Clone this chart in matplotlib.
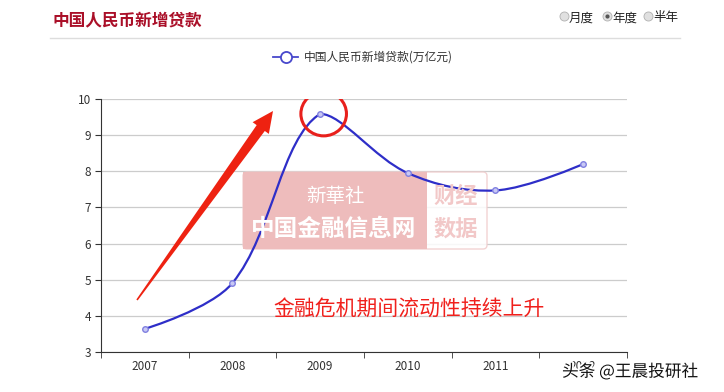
import numpy as np
import matplotlib
matplotlib.use("Agg")
import matplotlib.pyplot as plt
from matplotlib.path import Path
from matplotlib.patches import PathPatch, Ellipse, FancyBboxPatch, Rectangle, Polygon
from matplotlib.lines import Line2D
import matplotlib.patheffects as pe

plt.rcParams["font.family"] = ["Noto Sans CJK SC", "DejaVu Sans"]

# data
years = ["2007", "2008", "2009", "2010", "2011", "2012"]
loans = [3.64, 4.91, 9.59, 7.95, 7.47, 8.20]
y_ticks = [3, 4, 5, 6, 7, 8, 9, 10]

title = "中国人民币新增贷款"
series_name = "中国人民币新增贷款(万亿元)"
note = "金融危机期间流动性持续上升"

W, H = 724, 392
fig = plt.figure(figsize=(W / 100, H / 100), dpi=100)
ax = fig.add_axes([101 / W, 1 - 352 / H, 526 / W, 253 / H])

x = np.arange(len(years))
ax.set_xlim(-0.5, len(years) - 0.5)
ax.set_ylim(3, 10)


def smooth_path(ax, xs, ys, smooth=0.35):
    # bezier smoothing like echarts (pixel space, clamped to the points' box)
    pts = ax.transData.transform(np.column_stack([xs, ys]))
    lo, hi = pts.min(axis=0), pts.max(axis=0)
    n = len(pts)
    verts = [pts[0]]
    codes = [Path.MOVETO]
    cp0 = pts[0].copy()
    for i in range(1, n):
        p = pts[i]
        prv = pts[i - 1]
        if i < n - 1:
            nxt = pts[i + 1]
            v = nxt - prv
            d_prev = np.hypot(*(p - prv))
            d_next = np.hypot(*(p - nxt))
            ratio = d_next / (d_next + d_prev)
            cp1 = p - v * smooth * (1 - ratio)
        else:
            v = np.zeros(2)
            ratio = 0.5
            cp1 = p.copy()
        cp0 = np.clip(cp0, lo, hi)
        cp1 = np.clip(cp1, lo, hi)
        verts += [cp0, cp1, p]
        codes += [Path.CURVE4] * 3
        cp0 = p + v * smooth * ratio
    verts = ax.transData.inverted().transform(np.array(verts))
    return Path(verts, codes)


def px(xp, yp):
    # reference pixel (top-left origin) -> display coords
    return np.array([xp, H - yp], dtype=float)


# grid + axes styling
ax.set_yticks(y_ticks)
ax.yaxis.grid(True, color="#cccccc", linewidth=0.9)
ax.set_axisbelow(True)
for s in ["top", "right"]:
    ax.spines[s].set_visible(False)
ax.spines["left"].set_color("#333333")
ax.spines["bottom"].set_color("#333333")
ax.tick_params(axis="y", length=4, color="#333333", labelsize=8.5,
               labelcolor="#333333", pad=3)
ax.set_xticks(x)
ax.set_xticklabels(years)
ax.set_xticks(np.arange(len(years) + 1) - 0.5, minor=True)
ax.tick_params(axis="x", which="major", length=0, labelsize=8.5,
               labelcolor="#333333", pad=6)
ax.tick_params(axis="x", which="minor", length=4, color="#333333")

# watermark box
ax.add_patch(FancyBboxPatch(px(243, 249), 244, 77,
                            boxstyle="round,pad=0,rounding_size=4",
                            transform=None, facecolor="white", edgecolor="#f0cccc",
                            linewidth=1, alpha=0.85, zorder=1.5))
ax.add_patch(Rectangle(px(243, 249), 184, 77, transform=None,
                       facecolor="#eebcbc", edgecolor="none", zorder=1.6))
fig.text(335 / W, 1 - 196 / H, "新華社", color="white", fontsize=14,
         ha="center", va="center", zorder=3)
fig.text(334 / W, 1 - 229 / H, "中国金融信息网", color="white", fontsize=17,
         fontweight="bold", ha="center", va="center", zorder=3)
fig.text(456 / W, 1 - 196 / H, "财经", color="#f2c8c8", fontsize=16,
         fontweight="bold", ha="center", va="center", zorder=3)
fig.text(456 / W, 1 - 229 / H, "数据", color="#f2c8c8", fontsize=16,
         fontweight="bold", ha="center", va="center", zorder=3)

# series
ax.add_patch(PathPatch(smooth_path(ax, x, loans), facecolor="none",
                       edgecolor="#2e2ec8", linewidth=1.6, zorder=4))
ax.plot(x, loans, linestyle="none", marker="o", markersize=4,
        markerfacecolor="#c8c8f5", markeredgecolor="#8080e0", zorder=5)

# red arrow: thin tail, widening towards the head
tail, tip = px(137, 300), px(273, 111)
u = (tip - tail) / np.hypot(*(tip - tail))
nrm = np.array([-u[1], u[0]])
base = tip - u * 21
arrow = [tail + nrm * 0.8, base + nrm * 5, base + nrm * 10, tip,
         base - nrm * 10, base - nrm * 5, tail - nrm * 0.8]
ax.add_patch(Polygon(arrow, closed=True, transform=None, facecolor="#ee2211",
                     edgecolor="none", zorder=6))

ax.add_patch(Ellipse((2.04, 9.59), 0.52, 1.22, facecolor="none",
                     edgecolor="#e8201c", linewidth=2.2, zorder=6))
ax.text(3.01, 4.16, note, color="#f0201c", fontsize=15, ha="center",
        va="center", zorder=6)

# header
fig.text(52 / W, 1 - 20 / H, title, color="#aa0f28", fontsize=12,
         fontweight="bold", ha="left", va="center")
fig.add_artist(Line2D([50 / W, 680 / W], [1 - 38 / H, 1 - 38 / H],
                      color="#dddddd", linewidth=1))
radio = [("月度", 564, False), ("年度", 607, True), ("半年", 648, False)]
for label, xp, on in radio:
    fig.add_artist(Line2D([xp / W], [1 - 16 / H], marker="o", markersize=6.5,
                          markerfacecolor="#e0e0e0", markeredgecolor="#b0b0b0",
                          markeredgewidth=0.6))
    if on:
        fig.add_artist(Line2D([xp / W], [1 - 16 / H], marker="o", markersize=3,
                              markerfacecolor="#555555", markeredgecolor="none"))
    fig.text((xp + 5) / W, 1 - 18 / H, label, color="#222222", fontsize=9,
             ha="left", va="center")

# legend
fig.add_artist(Line2D([273 / W, 298 / W], [1 - 57 / H, 1 - 57 / H],
                      color="#4848cc", linewidth=1.3))
fig.add_artist(Line2D([285.5 / W], [1 - 57 / H], marker="o", markersize=8,
                      markerfacecolor="white", markeredgecolor="#4848cc",
                      markeredgewidth=1.3))
fig.text(304 / W, 1 - 57 / H, series_name, color="#333333", fontsize=8.5,
         ha="left", va="center")

# toutiao watermark
fig.text(562 / W, 1 - 372 / H, "头条 @王晨投研社", color="#111111", fontsize=12,
         ha="left", va="center",
         path_effects=[pe.withStroke(linewidth=2.5, foreground="white")])

fig.savefig("out.png", dpi=100)
